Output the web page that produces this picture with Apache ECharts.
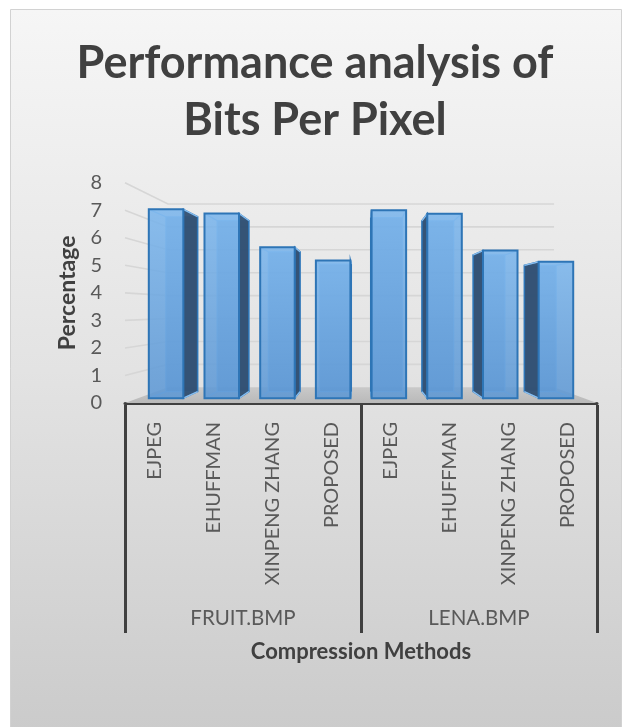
<!DOCTYPE html>
<html>
<head>
<meta charset="utf-8">
<script src="https://cdn.jsdelivr.net/npm/echarts@6/dist/echarts.min.js"></script>
<style>
  html, body { margin: 0; padding: 0; background: #ffffff; }
  #chart { width: 630px; height: 727px; }
</style>
</head>
<body>
<div id="chart"></div>
<script>
// Compression methods on the inner category axis (two images, four methods each)
const methods = ['EJPEG', 'EHUFFMAN', 'XINPENG ZHANG', 'PROPOSED',
                 'EJPEG', 'EHUFFMAN', 'XINPENG ZHANG', 'PROPOSED'];
// Image groups on the outer category axis
const images = ['FRUIT.BMP', 'LENA.BMP'];
// Bits per pixel for each method/image pair
const fruitBpp = [7.23, 7.07, 5.78, 5.27];
const lenaBpp = [7.20, 7.06, 5.65, 5.22];
// Value axis ticks
const yTicks = [0, 1, 2, 3, 4, 5, 6, 7, 8];

const bppValues = fruitBpp.concat(lenaBpp);
const barData = bppValues.map((v, i) => [i, v]);

// Pseudo-3D projection: depth factor s (1 = front plane) pulls points toward an eye point
const EYE_VALUE = 3.4;      // value level of the eye line
const KY = 0.923;           // vertical foreshortening relative to horizontal
const S_FRONT = 0.944;      // depth of the bar front faces
const S_BACK = 0.868;       // depth of the bar back faces
const S_WALL = 0.818;       // depth of the back wall
const BAR_HALF = 0.31;      // half bar width as a share of the category band

function makeProjector(api) {
  const vx = (api.coord([3, 0])[0] + api.coord([4, 0])[0]) / 2;
  const vy = api.coord([0, EYE_VALUE])[1];
  return function (x, y, s) {
    const sy = 1 - (1 - s) * KY;
    return [vx + (x - vx) * s, vy + (y - vy) * sy];
  };
}

function renderFloor(params, api) {
  const P = makeProjector(api);
  const band = api.size([1, 0])[0];
  const xl = api.coord([0, 0])[0] - band / 2;
  const xr = api.coord([methods.length - 1, 0])[0] + band / 2;
  const y0 = api.coord([0, 0])[1];
  return {
    type: 'polygon',
    shape: { points: [[xl, y0], [xr, y0], P(xr, y0, S_WALL), P(xl, y0, S_WALL)] },
    style: {
      fill: new echarts.graphic.LinearGradient(0, 0, 0, 1, [
        { offset: 0, color: '#c9c9c9' },
        { offset: 1, color: '#b9b9b9' }
      ])
    }
  };
}

function renderGridLine(params, api) {
  const P = makeProjector(api);
  const v = api.value(1);
  if (v === yTicks[0]) return null;
  const band = api.size([1, 0])[0];
  const xl = api.coord([0, 0])[0] - band / 2;
  const xr = api.coord([methods.length - 1, 0])[0] + band / 2;
  const y = api.coord([0, v])[1];
  const backL = P(xl, y, S_WALL);
  const backR = P(xr, y, S_WALL);
  return {
    type: 'polyline',
    shape: { points: [[xl, y], backL, backR] },
    style: { stroke: '#d6d6d6', lineWidth: 1.6, fill: null }
  };
}

function renderBar(params, api) {
  const P = makeProjector(api);
  const i = api.value(0);
  const v = api.value(1);
  const base = api.coord([i, 0]);
  const top = api.coord([i, v]);
  const band = api.size([1, 0])[0];
  const xl = base[0] - band * BAR_HALF;
  const xr = base[0] + band * BAR_HALF;
  const yb = base[1];
  const yt = top[1];
  const vx = (api.coord([3, 0])[0] + api.coord([4, 0])[0]) / 2;

  const f = [P(xl, yt, S_FRONT), P(xr, yt, S_FRONT), P(xr, yb, S_FRONT), P(xl, yb, S_FRONT)];
  const b = [P(xl, yt, S_BACK), P(xr, yt, S_BACK), P(xr, yb, S_BACK), P(xl, yb, S_BACK)];

  // bars left of the eye line show their right side, bars right of it their left side
  const sideIdx = base[0] < vx ? [1, 2] : [0, 3];
  const side = [f[sideIdx[0]], b[sideIdx[0]], b[sideIdx[1]], f[sideIdx[1]]];

  const edgeStyle = { stroke: 'rgba(150,200,245,0.9)', lineWidth: 1.2, fill: null };
  const children = [
    {
      type: 'polygon',
      shape: { points: b },
      style: { fill: 'rgba(80,140,205,0.55)', stroke: 'rgba(150,200,245,0.9)', lineWidth: 1.2 }
    },
    {
      type: 'polygon',
      shape: { points: side },
      style: { fill: 'rgba(45,75,110,0.92)', stroke: '#2e75b6', lineWidth: 1.5 }
    }
  ];
  for (let k = 0; k < 4; k++) {
    children.push({ type: 'line', shape: { x1: f[k][0], y1: f[k][1], x2: b[k][0], y2: b[k][1] }, style: edgeStyle });
  }
  children.push({
    type: 'polygon',
    shape: { points: f },
    style: {
      fill: new echarts.graphic.LinearGradient(0, 0, 0, 1, [
        { offset: 0, color: 'rgba(120,180,236,0.85)' },
        { offset: 1, color: 'rgba(90,150,212,0.85)' }
      ]),
      stroke: '#2e75b6',
      lineWidth: 2
    }
  });
  return { type: 'group', children: children };
}

const chart = echarts.init(document.getElementById('chart'), null, { renderer: 'canvas' });

const labelFont = 'Lato, "Open Sans", sans-serif';

chart.setOption({
  animation: false,
  backgroundColor: '#ffffff',
  graphic: [{
    type: 'rect',
    z: -10,
    shape: { x: 10.5, y: 9.5, width: 611, height: 720 },
    style: {
      fill: new echarts.graphic.LinearGradient(0, 0, 0, 1, [
        { offset: 0, color: '#f6f6f6' },
        { offset: 0.5, color: '#e3e3e3' },
        { offset: 1, color: '#cbcbcb' }
      ]),
      stroke: '#d2d2d2',
      lineWidth: 1
    }
  }],
  title: {
    text: 'Performance analysis of\nBits Per Pixel',
    left: 'center',
    top: 30,
    textStyle: {
      fontFamily: labelFont,
      fontSize: 45,
      fontWeight: 'bold',
      lineHeight: 57,
      color: '#404040'
    }
  },
  grid: { left: 125, right: 33, top: 182.7, bottom: 324, containLabel: false },
  xAxis: [
    {
      type: 'category',
      data: methods,
      position: 'bottom',
      offset: 2,
      axisLine: { show: true, lineStyle: { color: '#404040', width: 3 } },
      axisTick: { show: false },
      axisLabel: {
        rotate: 90,
        margin: 17,
        interval: 0,
        fontSize: 20,
        color: '#595959',
        fontFamily: labelFont
      }
    },
    {
      type: 'category',
      data: images,
      position: 'bottom',
      offset: 2,
      axisLine: { show: false },
      axisTick: { show: true, length: 228, lineStyle: { color: '#404040', width: 3 } },
      axisLabel: { margin: 203, fontSize: 20.5, color: '#595959', fontFamily: labelFont },
      name: 'Compression Methods',
      nameLocation: 'middle',
      nameGap: 236,
      nameTextStyle: { fontSize: 22, fontWeight: 'bold', color: '#404040', fontFamily: labelFont }
    }
  ],
  yAxis: {
    type: 'value',
    min: yTicks[0],
    max: yTicks[yTicks.length - 1],
    interval: yTicks[1] - yTicks[0],
    axisLine: { show: false },
    axisTick: { show: false },
    splitLine: { show: false },
    axisLabel: { margin: 23, fontSize: 20, color: '#595959', fontFamily: labelFont },
    name: 'Percentage',
    nameLocation: 'middle',
    nameRotate: 90,
    nameGap: 43,
    nameTextStyle: { fontSize: 23, fontWeight: 'bold', color: '#404040', fontFamily: labelFont }
  },
  series: [
    {
      type: 'custom',
      name: 'floor',
      xAxisIndex: 0,
      z: 1,
      silent: true,
      data: [[0, 0]],
      renderItem: renderFloor
    },
    {
      type: 'custom',
      name: 'gridlines',
      xAxisIndex: 0,
      z: 1,
      silent: true,
      data: yTicks.map(v => [0, v]),
      renderItem: renderGridLine
    },
    {
      type: 'custom',
      name: 'Bits Per Pixel',
      xAxisIndex: 0,
      z: 3,
      data: barData,
      renderItem: renderBar
    }
  ]
});
</script>
</body>
</html>
